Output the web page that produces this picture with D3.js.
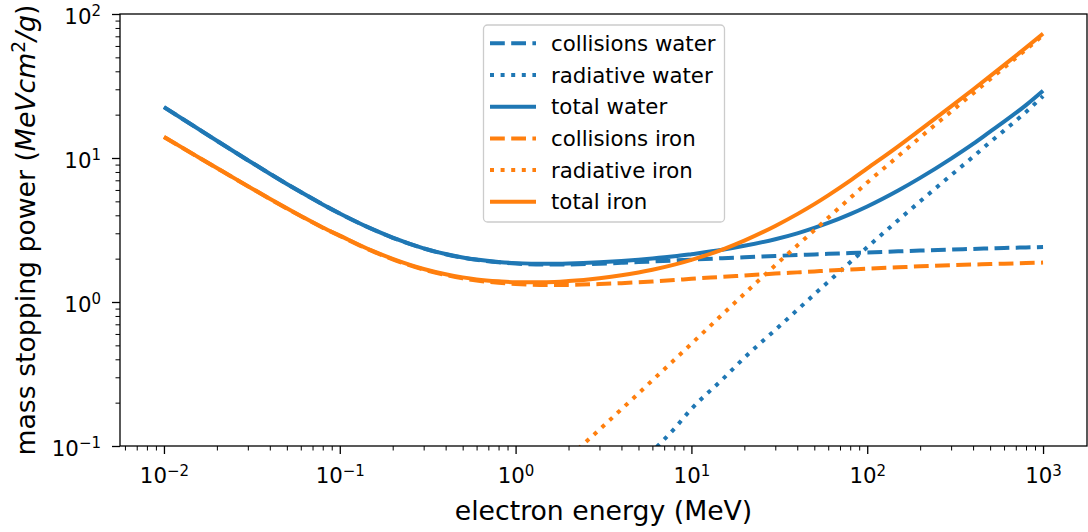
<!DOCTYPE html>
<html>
<head>
<meta charset="utf-8">
<script src="https://cdn.jsdelivr.net/npm/d3@7"></script>
<style>
  body { margin: 0; background: #fff; }
  svg { display: block; }
  text { font-family: "DejaVu Sans", sans-serif; fill: #000; }
</style>
</head>
<body>
<svg id="chart" width="1088" height="532"></svg>
<script>
// Electron energy (MeV)
const energies = [0.01, 0.015, 0.02, 0.03, 0.04, 0.05, 0.06, 0.08, 0.1, 0.15, 0.2, 0.3, 0.4, 0.5, 0.6, 0.8,
  1, 1.5, 2, 3, 4, 5, 6, 8, 10, 15, 20, 30, 40, 50, 60, 80, 100, 150, 200, 300, 400, 500, 600, 800, 1000];

// Mass stopping powers (MeV cm^2/g)
const collisionsWater = [22.56, 16.47, 13.17, 9.653, 7.777, 6.603, 5.797, 4.757, 4.115, 3.238, 2.793, 2.355, 2.148, 2.034, 1.963, 1.886,
  1.849, 1.822, 1.824, 1.846, 1.870, 1.892, 1.911, 1.943, 1.968, 2.014, 2.046, 2.089, 2.119, 2.141, 2.159, 2.187, 2.209, 2.248, 2.276, 2.310, 2.337, 2.357, 2.372, 2.393, 2.410];
const radiativeWater = [0.0039, 0.0039, 0.0040, 0.0040, 0.0041, 0.0041, 0.0041, 0.0042, 0.0042, 0.0044, 0.0046, 0.0051, 0.0057, 0.0064, 0.0072, 0.0098,
  0.0129, 0.019, 0.027, 0.042, 0.058, 0.074, 0.092, 0.132, 0.181, 0.29, 0.41, 0.64, 0.88, 1.13, 1.38, 1.89, 2.40, 3.70, 5.00, 7.6, 10.2, 12.9, 15.5, 20.9, 26.9];
const totalWater = [22.56, 16.47, 13.17, 9.657, 7.781, 6.607, 5.801, 4.761, 4.119, 3.242, 2.798, 2.360, 2.154, 2.040, 1.970, 1.896,
  1.862, 1.841, 1.851, 1.888, 1.928, 1.966, 2.003, 2.075, 2.149, 2.304, 2.456, 2.729, 2.999, 3.271, 3.539, 4.077, 4.609, 5.948, 7.276, 9.910, 12.537, 15.257, 17.872, 23.293, 29.31];

const collisionsIron = [14.0, 10.46, 8.51, 6.37, 5.20, 4.46, 3.95, 3.28, 2.88, 2.28, 1.98, 1.68, 1.54, 1.46, 1.41, 1.36,
  1.333, 1.314, 1.315, 1.333, 1.352, 1.372, 1.389, 1.42, 1.449, 1.494, 1.528, 1.575, 1.606, 1.631, 1.652, 1.682, 1.705, 1.742, 1.768, 1.801, 1.82, 1.833, 1.845, 1.862, 1.877];
const radiativeIron = [0.0092, 0.0093, 0.0094, 0.0096, 0.0098, 0.0100, 0.0102, 0.0105, 0.011, 0.012, 0.013, 0.016, 0.019, 0.022, 0.025, 0.031,
  0.039, 0.060, 0.083, 0.130, 0.180, 0.232, 0.286, 0.397, 0.513, 0.819, 1.14, 1.80, 2.47, 3.15, 3.85, 5.28, 6.75, 10.3, 13.9, 21.0, 28.1, 35.2, 42.3, 56.6, 71.2];
const totalIron = [14.01, 10.47, 8.519, 6.380, 5.210, 4.470, 3.960, 3.291, 2.891, 2.292, 1.993, 1.696, 1.559, 1.482, 1.435, 1.391,
  1.372, 1.374, 1.398, 1.463, 1.532, 1.604, 1.675, 1.817, 1.962, 2.313, 2.668, 3.375, 4.076, 4.781, 5.502, 6.962, 8.455, 12.042, 15.668, 22.801, 29.92, 37.033, 44.145, 58.462, 73.077];

// Axis ticks (powers of ten)
const xTickExponents = [-2, -1, 0, 1, 2, 3];
const yTickExponents = [-1, 0, 1, 2];

// Legend labels, in plotting order
const seriesLabels = ["collisions water", "radiative water", "total water", "collisions iron", "radiative iron", "total iron"];

const BLUE = "#1f77b4", ORANGE = "#ff7f0e";
const LW = 4;
const dashes = { dashed: `${3.7 * LW},${1.6 * LW}`, dotted: `${1 * LW},${1.65 * LW}`, solid: null };

const series = [
  { label: seriesLabels[0], values: collisionsWater, color: BLUE, style: "dashed" },
  { label: seriesLabels[1], values: radiativeWater, color: BLUE, style: "dotted" },
  { label: seriesLabels[2], values: totalWater, color: BLUE, style: "solid" },
  { label: seriesLabels[3], values: collisionsIron, color: ORANGE, style: "dashed" },
  { label: seriesLabels[4], values: radiativeIron, color: ORANGE, style: "dotted" },
  { label: seriesLabels[5], values: totalIron, color: ORANGE, style: "solid" }
];

const plot = { left: 120, right: 1087, top: 14, bottom: 446 };
const svg = d3.select("#chart");

const x = d3.scaleLog().domain([10 ** -2.25, 10 ** 3.25]).range([plot.left, plot.right]);
const y = d3.scaleLog().domain([0.1, 100]).range([plot.bottom, plot.top]);

svg.append("defs").append("clipPath").attr("id", "plot-clip")
  .append("rect")
  .attr("x", plot.left).attr("y", plot.top)
  .attr("width", plot.right - plot.left).attr("height", plot.bottom - plot.top);

// Curves
const line = d3.line()
  .x(d => x(d[0]))
  .y(d => y(d[1]))
  .curve(d3.curveMonotoneX);

const curves = svg.append("g").attr("clip-path", "url(#plot-clip)");
series.forEach(s => {
  curves.append("path")
    .datum(energies.map((e, i) => [e, s.values[i]]))
    .attr("d", line)
    .attr("fill", "none")
    .attr("stroke", s.color)
    .attr("stroke-width", LW)
    .attr("stroke-linecap", "butt")
    .attr("stroke-linejoin", "round")
    .attr("stroke-dasharray", dashes[s.style]);
});

// Minor tick positions for each decade in the domain
function minorTicks(scale) {
  const [lo, hi] = scale.domain();
  const out = [];
  for (let d = Math.floor(Math.log10(lo)); d <= Math.ceil(Math.log10(hi)); d++) {
    for (let k = 2; k <= 9; k++) {
      const v = k * 10 ** d;
      if (v >= lo && v <= hi) out.push(v);
    }
  }
  return out;
}

function styleAxis(g, width) {
  g.select(".domain").remove();
  g.selectAll(".tick line").attr("stroke", "#000").attr("stroke-width", width);
  g.selectAll(".tick text").remove();
}

const xMajor = xTickExponents.map(e => 10 ** e);
const yMajor = yTickExponents.map(e => 10 ** e);

svg.append("g").attr("transform", `translate(0,${plot.bottom})`)
  .call(d3.axisBottom(x).tickValues(minorTicks(x)).tickSize(4.5).tickFormat(""))
  .call(g => styleAxis(g, 1.0));
const xAxisG = svg.append("g").attr("transform", `translate(0,${plot.bottom})`)
  .call(d3.axisBottom(x).tickValues(xMajor).tickSize(8).tickFormat(""))
  .call(g => styleAxis(g, 1.3));

svg.append("g").attr("transform", `translate(${plot.left},0)`)
  .call(d3.axisLeft(y).tickValues(minorTicks(y)).tickSize(4.5).tickFormat(""))
  .call(g => styleAxis(g, 1.0));
const yAxisG = svg.append("g").attr("transform", `translate(${plot.left},0)`)
  .call(d3.axisLeft(y).tickValues(yMajor).tickSize(8).tickFormat(""))
  .call(g => styleAxis(g, 1.3));

// Power-of-ten tick labels: "10" with a superscript exponent
function powerLabel(sel, exp) {
  sel.append("tspan").attr("font-size", 21.3).text("10");
  sel.append("tspan").attr("font-size", 15).attr("dy", -7.5)
    .text(exp < 0 ? "\u2212" + Math.abs(exp) : String(exp));
}

xAxisG.selectAll(".tick").each(function(d, i) {
  const t = d3.select(this).append("text")
    .attr("y", 37.3)
    .attr("text-anchor", "middle");
  powerLabel(t, xTickExponents[i]);
});

yAxisG.selectAll(".tick").each(function(d, i) {
  const t = d3.select(this).append("text")
    .attr("x", -19)
    .attr("y", 9)
    .attr("text-anchor", "end");
  powerLabel(t, yTickExponents[i]);
});

// Frame
svg.append("rect")
  .attr("x", plot.left).attr("y", plot.top)
  .attr("width", plot.right - plot.left).attr("height", plot.bottom - plot.top)
  .attr("fill", "none").attr("stroke", "#000").attr("stroke-width", 1.3);

// Axis titles
svg.append("text")
  .attr("x", (plot.left + plot.right) / 2)
  .attr("y", 520)
  .attr("text-anchor", "middle")
  .attr("font-size", 26.7)
  .text("electron energy (MeV)");

const yTitle = svg.append("text")
  .attr("transform", `translate(35,${(plot.top + plot.bottom) / 2}) rotate(-90)`)
  .attr("text-anchor", "middle")
  .attr("font-size", 26.7);
yTitle.append("tspan").text("mass stopping power (");
yTitle.append("tspan").attr("font-style", "italic").text("MeVcm");
yTitle.append("tspan").attr("font-size", 18.7).attr("dy", -10).text("2");
yTitle.append("tspan").attr("font-style", "italic").attr("dy", 10).text("/g");
yTitle.append("tspan").text(")");

// Legend
const legend = svg.append("g");
legend.append("rect")
  .attr("x", 483.5).attr("y", 25)
  .attr("width", 241).attr("height", 197)
  .attr("rx", 4)
  .attr("fill", "#fff").attr("fill-opacity", 0.8)
  .attr("stroke", "#cccccc").attr("stroke-width", 1.3);

series.forEach((s, i) => {
  const rowY = 43.3 + i * 31.7;
  legend.append("line")
    .attr("x1", 490).attr("x2", 536)
    .attr("y1", rowY).attr("y2", rowY)
    .attr("stroke", s.color)
    .attr("stroke-width", LW)
    .attr("stroke-dasharray", dashes[s.style]);
  legend.append("text")
    .attr("x", 551)
    .attr("y", rowY + 7.5)
    .attr("font-size", 21.3)
    .text(s.label);
});
</script>
</body>
</html>
